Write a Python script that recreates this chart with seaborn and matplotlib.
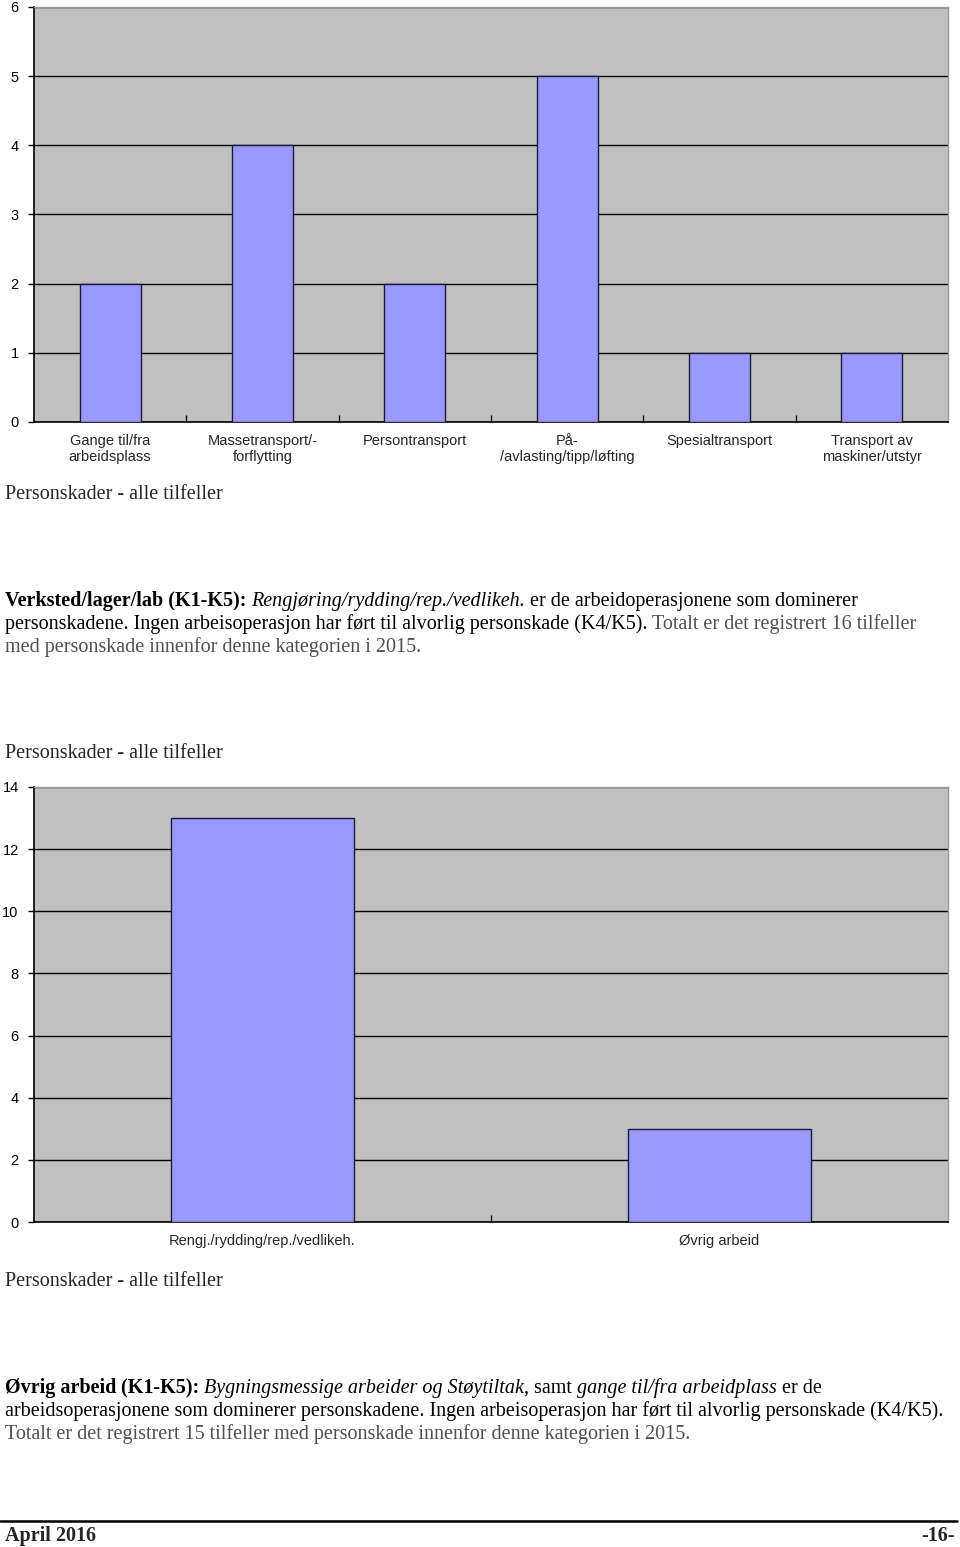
import matplotlib
matplotlib.use("Agg")
import matplotlib.pyplot as plt
import seaborn as sns
import pandas as pd
from matplotlib.ticker import FixedLocator

# ---- data ----
cats1 = ["Gange til/fra\narbeidsplass", "Massetransport/-\nforflytting", "Persontransport",
         "På-\n/avlasting/tipp/løfting", "Spesialtransport", "Transport av\nmaskiner/utstyr"]
vals1 = [2, 4, 2, 5, 1, 1]
yticks1 = [0, 1, 2, 3, 4, 5, 6]

cats2 = ["Rengj./rydding/rep./vedlikeh.", "Øvrig arbeid"]
vals2 = [13, 3]
yticks2 = [0, 2, 4, 6, 8, 10, 12, 14]

caption = "Personskader - alle tilfeller"
para1 = [
    [("Verksted/lager/lab (K1-K5): ", "bold", "normal", "#000000"),
     ("Rengjøring/rydding/rep./vedlikeh.", "normal", "italic", "#000000"),
     (" er de arbeidoperasjonene som dominerer", "normal", "normal", "#000000")],
    [("personskadene. Ingen arbeisoperasjon har ført til alvorlig personskade (K4/K5). ", "normal", "normal", "#000000"),
     ("Totalt er det registrert 16 tilfeller", "normal", "normal", "#505050")],
    [("med personskade innenfor denne kategorien i 2015.", "normal", "normal", "#505050")],
]
para2 = [
    [("Øvrig arbeid ", "bold", "normal", "#000000"),
     ("(K1-K5): ", "bold", "normal", "#000000"),
     ("Bygningsmessige arbeider og Støytiltak", "normal", "italic", "#000000"),
     (", samt ", "normal", "normal", "#000000"),
     ("gange til/fra arbeidplass", "normal", "italic", "#000000"),
     (" er de", "normal", "normal", "#000000")],
    [("arbeidsoperasjonene som dominerer personskadene. Ingen arbeisoperasjon har ført til alvorlig personskade (K4/K5).", "normal", "normal", "#000000")],
    [("Totalt er det registrert 15 tilfeller med personskade innenfor denne kategorien i 2015.", "normal", "normal", "#505050")],
]
footer_left = "April 2016"
footer_right = "-16-"

W, H = 960, 1547
sns.set_theme(style="white")
plt.rcParams['font.family'] = ['Liberation Sans', 'DejaVu Sans']

fig = plt.figure(figsize=(W / 100, H / 100), dpi=100)
fig.patch.set_facecolor("white")

BAR = "#9999FF"
BG = "#C0C0C0"


def make_axes(top, bottom):
    return fig.add_axes([34 / W, 1 - bottom / H, 914 / W, (bottom - top) / H])


def style_chart(ax, cats, vals, yticks):
    df = pd.DataFrame({"cat": cats, "val": vals})
    sns.barplot(data=df, x="cat", y="val", ax=ax, color=BAR, saturation=1,
                width=0.4, edgecolor="#1a1a3a", linewidth=1, zorder=3)
    ax.set_facecolor(BG)
    ax.set_ylim(yticks[0], yticks[-1])
    ax.set_xlim(-0.5, len(cats) - 0.5)
    ax.set_yticks(yticks)
    ax.set_yticklabels([str(t) for t in yticks], fontsize=10.5, color="#000000")
    ax.yaxis.grid(True, color="#000000", linewidth=1, zorder=1)
    ax.set_axisbelow(True)
    ax.set_xlabel("")
    ax.set_ylabel("")
    ax.tick_params(axis="y", direction="out", length=4, width=1, color="#000000", pad=7, left=True)
    ax.tick_params(axis="x", which="major", length=0, pad=9)
    ax.set_xticks(range(len(cats)))
    ax.set_xticklabels(cats, fontsize=10.5, linespacing=1.1)
    ax.xaxis.set_minor_locator(FixedLocator([i + 0.5 for i in range(len(cats) - 1)]))
    ax.tick_params(axis="x", which="minor", direction="in", length=5, width=1, color="#000000", bottom=True)
    for s in ["left", "bottom"]:
        ax.spines[s].set_color("#000000")
        ax.spines[s].set_linewidth(1.2)
    for s in ["top", "right"]:
        ax.spines[s].set_color("#9a9a9a")
        ax.spines[s].set_linewidth(1)


ax1 = make_axes(7, 422)
style_chart(ax1, cats1, vals1, yticks1)
ax2 = make_axes(787, 1222)
style_chart(ax2, cats2, vals2, yticks2)

SERIF = ['Liberation Serif', 'DejaVu Serif']
FS = 14.5


def ftext(x, y, s, **kw):
    return fig.text(x / W, 1 - y / H, s, family=SERIF, va="baseline", **kw)


renderer = fig.canvas.get_renderer()


def rich_line(x, y, pieces, fs=FS):
    cur = x
    for txt, weight, style, col in pieces:
        t = ftext(cur, y, txt, fontsize=fs, fontweight=weight, fontstyle=style, color=col)
        bb = t.get_window_extent(renderer=renderer)
        cur = bb.x1


ftext(5, 499, caption, fontsize=FS)
for i, line in enumerate(para1):
    rich_line(5, 606 + i * 23, line)
ftext(5, 758, caption, fontsize=FS)
ftext(5, 1286, caption, fontsize=FS)
for i, line in enumerate(para2):
    rich_line(5, 1393 + i * 23, line)

fig.add_artist(plt.Line2D([0 / W, 957 / W], [1 - 1521 / H, 1 - 1521 / H], color="#000000", linewidth=1.8))
ftext(5, 1541, footer_left, fontsize=FS, fontweight="bold")
ftext(955, 1541, footer_right, fontsize=FS, fontweight="bold", ha="right")

fig.savefig("out.png", dpi=100, facecolor="white")
